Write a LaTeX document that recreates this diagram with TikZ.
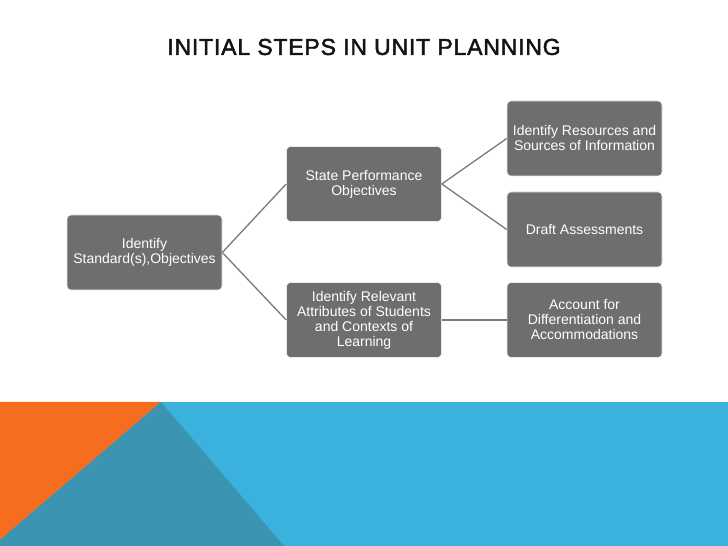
\documentclass[tikz,border=0pt]{standalone}
\usepackage{fontspec}
\setmainfont{Liberation Sans}
\usetikzlibrary{positioning}
\definecolor{boxgray}{RGB}{109,110,112}
\definecolor{linegray}{RGB}{120,121,123}
\definecolor{bandorange}{RGB}{246,109,32}
\definecolor{bandblue}{RGB}{59,177,222}
\definecolor{bandteal}{RGB}{58,148,178}

\begin{document}
\begin{tikzpicture} [x = 1pt, y = 1pt, node distance = 220pt, on grid,
        stepbox/.style = {rectangle, rounded corners = 4pt, fill = boxgray, draw = white!85!boxgray,
            line width = 0.6pt, minimum width = 155pt, minimum height = 75pt,
            text = white, align = center, font = \fontsize{14}{15}\selectfont},
        link/.style = {draw = linegray, line width = 1.3pt}]
        \useasboundingbox (0,0) rectangle (728,546);

        % coloured band at the bottom
        \fill [bandblue] (0,0) rectangle (728,144);
        \fill [bandorange] (0,144) -- (161,144) -- (0,6) -- cycle;
        \fill [bandteal] (161,144) -- (0,6) -- (0,0) -- (284,0) -- cycle;

        \node (title) [text = black!92] at (364,499)
            {\fontsize{23}{28}\selectfont\addfontfeatures{LetterSpace=3.5, FakeBold=2}INITIAL STEPS IN UNIT PLANNING};

        \node (ident) [stepbox] at (144.5,293.5) {Identify\\Standard(s),Objectives};
        \node (perf) [stepbox, above right = 68.5pt and 219.5pt of ident] {State Performance\\Objectives};
        \node (attr) [stepbox, below right = 67.5pt and 219.5pt of ident] {Identify Relevant\\Attributes of Students\\and Contexts of\\Learning};
        \node (res) [stepbox, above right = 45.5pt and 220.5pt of perf] {Identify Resources and\\Sources of Information};
        \node (draft) [stepbox, below right = 45.5pt and 220.5pt of perf] {Draft Assessments};
        \node (diff) [stepbox, right = 220.5pt of attr] {Account for\\Differentiation and\\Accommodations};

        \path [link] (ident.east) -- (perf.west);
        \path [link] (ident.east) -- (attr.west);
        \path [link] (perf.east) -- (res.west);
        \path [link] (perf.east) -- (draft.west);
        \path [link] (attr.east) -- (diff.west);
    \end{tikzpicture}
\end{document}
